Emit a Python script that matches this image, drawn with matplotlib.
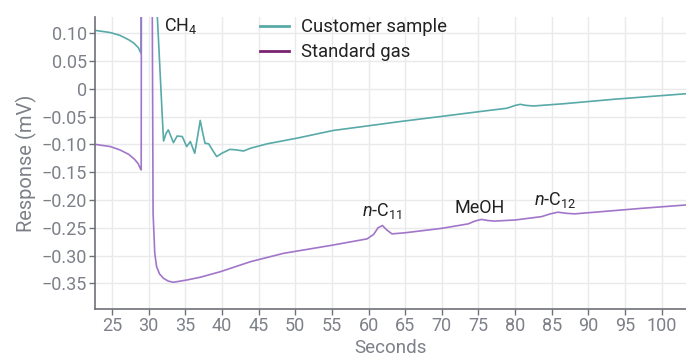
import matplotlib
matplotlib.use("Agg")
from matplotlib import pyplot as plt
from matplotlib.lines import Line2D

plt.rcParams['font.family'] = ['Roboto', 'DejaVu Sans']
plt.rcParams['mathtext.fontset'] = 'custom'
plt.rcParams['mathtext.rm'] = 'Roboto'
plt.rcParams['mathtext.it'] = 'Roboto:italic'

# dati (secondi, mV)
x_cust = [22.7, 24.8, 26.1, 27.3, 28.0, 28.6, 28.96, 29.05, 31.0, 31.2, 31.9, 32.05,
          32.4, 32.7, 33.0, 33.4, 33.9, 34.6, 35.2, 35.7, 36.3, 36.7, 37.05, 37.4, 37.7, 38.2,
          38.8, 39.3, 40.0, 41.1, 42.0, 42.95, 43.9, 46.2, 50.2, 55.2, 59.8, 64.3, 69.8, 75.2, 78.9,
          80.0, 80.7, 81.5, 82.5, 86.6, 93.4, 103.3]
y_cust = [0.105, 0.101, 0.096, 0.088, 0.082, 0.074, 0.064, 0.5, 0.5, 0.13, -0.057, -0.094,
          -0.080, -0.074, -0.084, -0.097, -0.085, -0.086, -0.104, -0.095, -0.116, -0.085, -0.057, -0.080, -0.098, -0.099,
          -0.112, -0.122, -0.116, -0.109, -0.110, -0.112, -0.107, -0.099, -0.089, -0.075, -0.067, -0.059, -0.050, -0.041, -0.035,
          -0.030, -0.028, -0.030, -0.031, -0.027, -0.019, -0.009]

x_std = [22.7, 24.8, 26.1, 27.3, 28.1, 28.6, 28.9, 29.0, 29.05, 30.4, 30.62, 30.85,
         31.1, 31.5, 32.05, 32.7, 33.4, 35.2, 37.05, 39.8, 43.9, 48.4, 55.2, 59.8,
         60.7, 61.3, 61.9, 62.5, 63.2, 65.0, 70.0, 73.6, 74.5, 75.4, 76.3, 77.2,
         80.0, 83.6, 84.8, 85.8, 87.0, 88.1, 97.3, 103.3]
y_std = [-0.100, -0.104, -0.110, -0.118, -0.127, -0.135, -0.144, -0.146, 0.5, 0.5, -0.224, -0.296,
         -0.320, -0.333, -0.341, -0.346, -0.348, -0.344, -0.339, -0.329, -0.311, -0.296, -0.281, -0.270,
         -0.262, -0.250, -0.246, -0.254, -0.261, -0.259, -0.251, -0.243, -0.238, -0.235, -0.237, -0.238,
         -0.236, -0.230, -0.225, -0.222, -0.224, -0.225, -0.215, -0.209]

x_ticks = [25, 30, 35, 40, 45, 50, 55, 60, 65, 70, 75, 80, 85, 90, 95, 100]
y_ticks = [0.10, 0.05, 0, -0.05, -0.10, -0.15, -0.20, -0.25, -0.30, -0.35]
y_labels = ['0.10', '0.05', '0', '\u22120.05', '\u22120.10', '\u22120.15',
            '\u22120.20', '\u22120.25', '\u22120.30', '\u22120.35']

picchi = ['CH$_4$', '$n$-C$_{11}$', 'MeOH', '$n$-C$_{12}$']
picchi_x = [32.1, 61.9, 75.2, 85.5]
picchi_y = [0.103, -0.229, -0.223, -0.209]
picchi_ha = ['left', 'center', 'center', 'center']

teal = '#58aaa8'
viola = '#a176c9'
viola_leg = '#7a2270'
grigio = '#7d8088'

fig = plt.figure(figsize=(6.86, 3.58), dpi=100)
ax = fig.add_axes([0.1385, 0.137, 0.8615, 0.8155])

ax.plot(x_cust, y_cust, color=teal, lw=1.2)
ax.plot(x_std, y_std, color=viola, lw=1.2)

ax.set_xlim(22.7, 103.3)
ax.set_ylim(-0.396, 0.129)
ax.set_xticks(x_ticks)
ax.set_yticks(y_ticks)
ax.set_yticklabels(y_labels)
ax.grid(True, color='#e8eaec', lw=1)
ax.set_axisbelow(True)

for s in ['top', 'right']:
    ax.spines[s].set_visible(False)
for s in ['left', 'bottom']:
    ax.spines[s].set_color('#6e7178')
    ax.spines[s].set_linewidth(1.2)
ax.tick_params(colors='#6e7178', labelcolor=grigio, labelsize=13, length=4, width=1, pad=2)

ax.set_xlabel('Seconds', fontsize=13.5, color=grigio, labelpad=3)
ax.set_ylabel('Response (mV)', fontsize=14.5, color=grigio, labelpad=3)

for t, px, py, ha in zip(picchi, picchi_x, picchi_y, picchi_ha):
    ax.text(px, py, t, fontsize=13, color='#222222', ha=ha, va='baseline')

handles = [Line2D([], [], color=teal, lw=2), Line2D([], [], color=viola_leg, lw=2)]
ax.legend(handles, ['Customer sample', 'Standard gas'], loc='upper left',
          bbox_to_anchor=(0.279, 0.995), frameon=False, fontsize=13.3,
          borderpad=0, borderaxespad=0, handlelength=1.6, handletextpad=0.6,
          labelspacing=0.38, labelcolor='#222222')

plt.savefig('out.png')
